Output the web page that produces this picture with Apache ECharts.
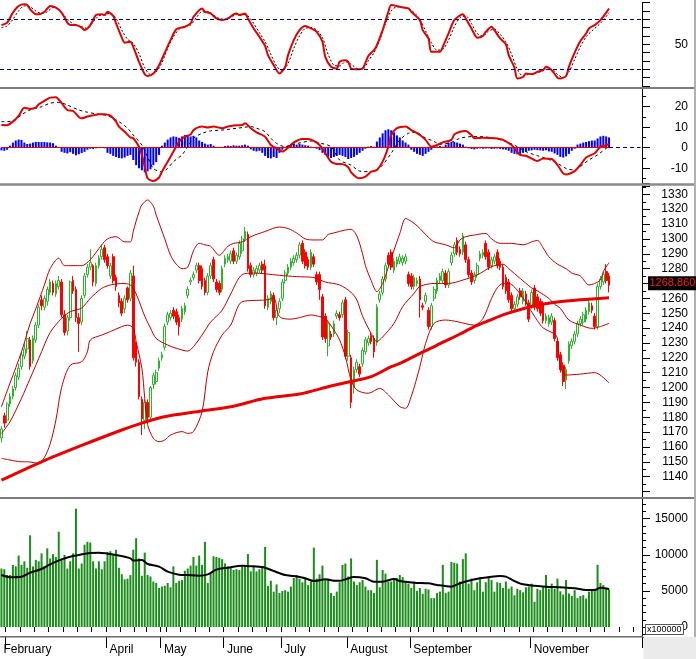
<!DOCTYPE html>
<html><head><meta charset="utf-8">
<script src="https://cdn.jsdelivr.net/npm/echarts@6/dist/echarts.min.js"></script>
<style>html,body{margin:0;padding:0;background:#fff}#c{width:696px;height:659px}</style>
</head><body><div id="c"></div>
<script>
// ---------- DATA ----------
const slotCount = 224; // trading-day slots on the time axis (data fills the first 213)
const opens = [
1166,1181,1178,1189,1194,1200,1207,1214,1221,1226,1232,1218,1232,1242,1259,1254,1258,1264,1270,1263,
1268,1271,1249,1238,1247,1272,1266,1247,1244,1262,1276,1281,1282,1270,1282,1288,1294,1288,1275,1288,
1274,1262,1258,1253,1267,1260,1275,1230,1217,1192,1178,1190,1180,1202,1204,1213,1220,1227,1244,1247,
1252,1251,1247,1246,1251,1262,1271,1274,1279,1282,1280,1272,1264,1275,1286,1271,1270,1266,1283,1286,
1285,1292,1285,1288,1292,1300,1303,1282,1276,1277,1279,1283,1282,1254,1258,1262,1247,1253,1260,1272,
1277,1281,1284,1286,1289,1297,1291,1286,1281,1288,1276,1276,1261,1248,1228,1236,1236,1248,1249,1249,
1259,1221,1220,1200,1212,1214,1216,1224,1230,1235,1233,1230,1259,1264,1273,1289,1291,1279,1283,1285,
1284,1285,1276,1275,1268,1270,1273,1255,1258,1252,1241,1260,1265,1272,1272,1277,1269,1284,1290,1299,
1293,1291,1296,1286,1277,1272,1276,1287,1289,1297,1291,1282,1285,1291,1285,1281,1274,1271,1262,1253,
1256,1265,1258,1263,1257,1255,1267,1261,1258,1256,1245,1243,1244,1245,1231,1222,1215,1205,1218,1228,
1231,1236,1243,1244,1246,1251,1255,1248,1241,1268,1271,1278,1275];
const closes = [
1172,1176,1189,1194,1199,1208,1213,1222,1226,1233,1214,1233,1242,1254,1255,1260,1266,1271,1264,1270,
1272,1249,1237,1247,1271,1265,1247,1243,1260,1275,1281,1284,1271,1282,1287,1293,1286,1282,1282,1272,
1268,1257,1250,1260,1259,1277,1220,1217,1194,1179,1190,1180,1200,1208,1210,1218,1222,1241,1249,1250,
1248,1244,1241,1253,1255,1266,1272,1276,1282,1272,1268,1264,1275,1282,1273,1266,1264,1280,1287,1288,
1290,1285,1289,1297,1300,1305,1280,1276,1279,1280,1282,1279,1255,1260,1263,1247,1252,1258,1271,1277,
1281,1285,1287,1289,1296,1285,1282,1281,1291,1283,1271,1266,1234,1233,1243,1234,1243,1250,1247,1257,
1221,1237,1190,1212,1217,1209,1225,1232,1233,1231,1224,1254,1263,1273,1282,1283,1281,1285,1286,1288,
1287,1288,1270,1268,1274,1272,1259,1254,1262,1241,1255,1266,1272,1275,1278,1269,1278,1289,1296,1291,
1290,1302,1286,1276,1271,1276,1282,1290,1291,1288,1281,1286,1288,1282,1281,1268,1265,1259,1253,1256,
1261,1261,1265,1257,1246,1264,1254,1253,1250,1245,1248,1247,1248,1233,1220,1212,1204,1212,1229,1231,
1236,1243,1246,1249,1252,1257,1252,1241,1268,1273,1276,1272,1268.86];
const lows = [
1163,1173,1176,1187,1192,1198,1205,1212,1219,1223,1212,1216,1230,1240,1252,1252,1255,1262,1262,1261,
1266,1247,1235,1235,1245,1263,1244,1224,1242,1260,1274,1279,1268,1268,1280,1286,1284,1280,1273,1270,
1265,1254,1248,1250,1257,1258,1218,1214,1192,1168,1172,1176,1178,1199,1202,1211,1218,1225,1242,1245,
1246,1242,1235,1244,1249,1260,1269,1272,1277,1270,1266,1262,1262,1273,1271,1264,1262,1264,1281,1284,
1283,1283,1283,1286,1290,1298,1278,1274,1274,1275,1277,1277,1253,1252,1256,1245,1242,1250,1258,1270,
1275,1279,1282,1284,1287,1283,1280,1279,1279,1281,1269,1259,1232,1230,1221,1232,1234,1246,1245,1247,
1219,1218,1186,1196,1210,1207,1214,1222,1228,1229,1220,1228,1257,1262,1271,1281,1279,1277,1281,1283,
1282,1283,1268,1266,1266,1268,1247,1252,1256,1239,1239,1258,1263,1270,1270,1267,1267,1282,1288,1289,
1288,1289,1284,1274,1269,1270,1274,1285,1287,1286,1279,1280,1283,1280,1279,1266,1263,1257,1251,1251,
1254,1259,1256,1255,1244,1253,1252,1251,1248,1243,1243,1241,1242,1231,1218,1210,1201,1199,1216,1226,
1229,1234,1241,1242,1244,1249,1250,1239,1239,1266,1269,1270,1264];
const highs = [
1174,1183,1190,1196,1201,1210,1216,1224,1230,1238,1234,1235,1244,1256,1262,1262,1268,1273,1272,1272,
1275,1273,1252,1249,1272,1275,1268,1250,1262,1277,1283,1293,1283,1284,1289,1296,1296,1290,1284,1290,
1276,1264,1260,1262,1268,1279,1282,1231,1219,1194,1192,1192,1201,1210,1212,1220,1224,1243,1251,1252,
1254,1253,1249,1255,1257,1268,1274,1278,1284,1284,1282,1274,1277,1284,1288,1273,1272,1282,1289,1290,
1292,1294,1291,1299,1302,1308,1305,1284,1281,1282,1284,1285,1286,1262,1265,1264,1254,1260,1273,1279,
1283,1287,1289,1291,1298,1299,1293,1288,1293,1290,1278,1278,1263,1250,1245,1238,1245,1252,1251,1259,
1261,1239,1222,1214,1219,1216,1227,1234,1235,1237,1235,1256,1265,1275,1284,1291,1293,1287,1288,1290,
1289,1290,1278,1277,1276,1274,1275,1257,1264,1254,1257,1268,1274,1277,1280,1279,1280,1291,1298,1301,
1295,1304,1298,1288,1279,1278,1284,1292,1293,1299,1293,1288,1290,1293,1287,1283,1276,1273,1264,1258,
1263,1267,1267,1265,1259,1266,1269,1263,1260,1258,1250,1249,1250,1247,1233,1224,1217,1214,1231,1233,
1238,1245,1248,1251,1254,1259,1257,1250,1270,1275,1278,1283,1277];
const volumes = [
8100,8000,7200,7200,8600,8400,9900,8600,9100,8200,12700,8400,9300,9100,10200,8400,10900,9500,10100,9700,
13200,9500,10000,8100,9100,10200,16400,8100,8800,11400,11800,11700,9100,8100,9100,8000,9100,10400,10500,10000,
10700,8200,7300,6600,6700,7200,10700,12300,9500,7100,10300,7200,7000,6300,6100,5400,5600,5700,6100,5500,
8400,6100,6400,6500,7800,8100,8500,9700,8500,9900,8600,11800,6100,7400,9800,9700,9600,9400,8800,8400,
8300,7900,8000,7900,8400,8600,10100,7700,8400,7700,8000,8400,11100,5700,6400,4900,5900,4700,5000,5100,
4900,5600,6800,7200,6700,6200,6700,5800,6300,11000,6700,7300,8500,6500,6700,4700,4300,4900,6200,8600,
8800,7000,9500,6300,5800,6200,6500,5600,5100,5100,4700,9300,5500,7900,7400,6300,6300,6600,6800,7200,
6900,6300,6000,5400,6300,5000,5400,4600,5300,5200,4000,4000,4700,4900,8600,4700,4900,9000,8900,8800,
6300,9400,10200,6000,6700,5100,6200,6900,4900,6200,6900,6500,4900,6200,6100,5400,6300,5300,5600,4400,
5300,5100,4800,5500,5600,6000,3500,5300,5100,5600,7200,5300,6000,5300,6700,4950,4500,6500,4650,4300,
5100,4000,4300,4400,3950,4900,5100,5300,8600,6100,5800,5400,5200];
const macdHist = [
-1.3,-1.5,-1.0,1.0,2.5,3.5,4.0,3.8,2.5,1.8,2.0,2.5,2.8,2.8,2.8,2.8,2.6,2.5,2.2,1.0,
0.2,-2.0,-2.5,-2.8,-2.2,-3.0,-3.7,-3.2,-2.6,-2.0,-1.0,-0.5,-0.6,-0.3,-0.2,0.2,-0.3,-2.5,-3.0,-4.0,
-4.5,-5.0,-5.2,-4.8,-4.0,-3.5,-6.0,-8.5,-10.0,-11.0,-12.0,-11.5,-10.5,-8.5,-7.0,-3.5,1.0,2.5,4.0,5.0,
5.5,5.3,4.8,5.5,6.2,6.0,5.5,5.8,5.0,3.5,2.8,2.0,1.5,1.8,1.0,0.3,0.2,0.4,0.8,1.0,
0.8,1.2,1.0,1.0,1.2,1.5,1.0,-0.8,-1.5,-1.8,-1.5,-2.5,-4.0,-5.0,-5.2,-4.5,-5.0,-2.5,-1.0,0.2,
1.0,1.5,2.0,1.5,1.8,1.5,1.2,1.0,0.5,0.3,-0.5,-1.2,-2.5,-3.5,-4.5,-5.0,-4.5,-4.0,-3.5,-4.0,
-4.5,-5.5,-5.0,-4.5,-3.5,-2.5,-1.5,-0.5,0.5,0.8,0.5,3.0,5.0,7.0,8.5,9.0,8.5,7.5,6.0,5.0,
3.5,2.5,1.5,-1.0,-2.0,-3.0,-3.5,-4.0,-3.0,-2.0,-1.0,0.3,0.6,0.8,0.5,1.5,2.5,2.8,2.8,2.5,
2.0,1.5,0.5,-0.3,-0.6,-0.8,-0.5,-0.3,-0.5,-0.4,-0.3,-0.6,-0.5,-0.4,-0.6,-0.8,-1.0,-1.5,-2.5,-3.0,
-3.2,-3.0,-2.5,-2.0,-1.5,-1.3,-1.0,-1.2,-1.3,-1.5,-1.2,-1.8,-2.0,-2.8,-3.5,-4.5,-4.8,-4.2,-3.0,-1.5,
-0.5,1.5,2.0,2.5,2.8,3.2,3.5,3.5,4.5,5.5,5.8,5.5,5.0];
// indicator lines: [trading-day index, value]
const stochK = [[0,73],[2,76],[4,88],[6,96],[8,98],[9,97],[10,92],[12,86],[13,86],[15,89],[16,93],[17,96],[19,94],[21,88],[23,76],[24,73],[26,73],[28,70],[29,67],[31,73],[33,85],[35,86],[36,85],[37,89],[39,84],[40,75],[42,58],[43,52],[45,53],[46,47],[48,29],[50,14],[51,12],[53,15],[55,25],[57,40],[59,55],[61,68],[64,71],[66,75],[67,83],[70,93],[71,89],[73,87],[75,81],[77,79],[79,81],[81,86],[82,87],[83,85],[85,87],[86,81],[88,69],[90,59],[92,48],[93,37],[95,25],[97,15],[99,23],[100,37],[102,55],[104,67],[106,72],[108,69],[110,65],[112,53],[113,35],[115,23],[117,21],[118,29],[120,31],[121,29],[122,21],[124,20],[126,21],[128,36],[130,43],[131,49],[133,67],[135,89],[136,97],[139,95],[142,93],[143,89],[146,79],[147,67],[149,57],[150,41],[153,41],[154,47],[156,63],[158,79],[161,86],[162,81],[164,69],[166,58],[168,60],[169,65],[171,71],[172,67],[174,57],[176,50],[177,37],[179,22],[180,9],[182,11],[183,15],[185,14],[187,17],[189,19],[190,23],[192,19],[194,10],[195,9],[197,12],[198,23],[200,40],[202,54],[204,63],[205,69],[207,73],[209,79],[211,88],[212,93]];
const stochD = [[0,70],[2,72],[4,80],[6,90],[8,96],[10,95],[12,90],[14,87],[16,89],[18,94],[20,92],[22,84],[24,77],[26,73],[28,71],[30,69],[32,77],[34,84],[36,86],[38,87],[40,81],[42,67],[44,56],[46,51],[48,39],[50,22],[52,14],[54,17],[56,28],[58,45],[60,59],[62,68],[64,71],[66,73],[68,82],[70,89],[72,89],[74,85],[76,81],[78,80],[80,82],[82,86],[84,86],[86,84],[88,75],[90,64],[92,53],[94,38],[96,24],[98,18],[100,27],[102,45],[104,60],[106,69],[108,70],[110,67],[112,58],[114,38],[116,25],[118,24],[120,29],[122,26],[124,21],[126,20],[128,30],[130,40],[132,55],[134,75],[136,90],[138,95],[140,94],[142,93],[144,88],[146,80],[148,66],[150,52],[152,43],[154,44],[156,55],[158,71],[160,82],[162,84],[164,75],[166,63],[168,60],[170,66],[172,68],[174,62],[176,53],[178,38],[180,20],[182,12],[184,14],[186,15],[188,17],[190,20],[192,20],[194,14],[196,10],[198,17],[200,32],[202,47],[204,59],[206,66],[208,72],[210,79],[212,88]];
const stochLevels = [20, 80];
const macdLine = [[0,11.1],[2,11],[4,12.7],[6,15.5],[8,19.5],[10,18.9],[12,19.5],[13,21.2],[15,22.8],[17,24.4],[19,24.6],[21,21.7],[23,18.4],[25,17.9],[27,15],[28,14.3],[30,15.2],[32,15.8],[34,16.3],[36,16.3],[38,15.6],[40,12.7],[41,10.3],[43,7.8],[45,5],[46,4.6],[48,0.5],[49,-3.5],[50,-9.2],[51,-14.9],[53,-16.2],[55,-14.5],[56,-11.7],[58,-6.8],[60,-1.9],[62,3],[64,5.4],[66,6.4],[67,8.6],[70,10.3],[72,9.8],[74,10.3],[77,9.5],[79,10.3],[81,10.8],[84,11.1],[85,11.9],[87,9.5],[89,7.5],[92,5.4],[94,1.3],[96,-0.3],[98,-1.9],[100,0],[102,2.6],[105,4.3],[107,4.3],[109,3.3],[111,1.3],[113,-2.7],[115,-6.8],[117,-7.9],[119,-8],[121,-9.5],[122,-12],[124,-14.5],[125,-14.9],[127,-14.1],[129,-11.7],[131,-10.9],[133,-6.8],[135,0.5],[136,6.2],[138,9.5],[141,10.3],[143,8.6],[146,6.2],[148,3.8],[150,0.5],[152,1.3],[154,2.6],[157,3.8],[158,6.5],[160,7.8],[162,8.2],[164,6.2],[165,4.6],[168,4.9],[172,4.6],[175,3.8],[178,1.3],[179,-0.3],[181,-3.5],[183,-3.9],[186,-6],[187,-6.5],[189,-5.2],[192,-5.5],[194,-8.4],[196,-12.5],[197,-13],[200,-11.4],[202,-8.4],[204,-4.8],[207,-2.7],[208,-1.1],[209,0.5],[211,1.2],[212,1.8]];
const macdSignal = [[0,12.7],[4,13],[7,16],[10,18.4],[14,20],[17,21.7],[20,22.1],[23,20.8],[27,18.4],[30,17.3],[34,16.3],[37,15.6],[41,12.7],[44,9.5],[46,6.2],[49,1.3],[51,-4.4],[53,-10.1],[56,-11.7],[58,-10.1],[60,-6.8],[63,-3.5],[65,0.5],[67,4.6],[70,7],[73,8.2],[77,8.6],[80,9.1],[84,9.8],[87,10.3],[89,9.5],[92,7.8],[94,4.6],[96,2.1],[99,0.5],[101,1.3],[105,2.6],[108,3.3],[111,2.3],[115,0.5],[118,-6],[122,-8.5],[125,-11.4],[129,-11.7],[131,-10.9],[133,-8.4],[136,-2.7],[139,3.8],[142,7],[145,7.5],[147,5.4],[151,3],[153,1.7],[157,2.6],[160,4.6],[164,5.4],[167,5.4],[172,4.6],[176,3],[180,0.5],[183,-1.9],[187,-3.9],[190,-5.2],[194,-7.6],[197,-10.1],[200,-10.9],[202,-9.2],[205,-6],[208,-3.5],[211,-0.3],[212,0.5]];
const bbUpper = [[0,1187],[3,1203],[7,1224],[10,1243],[12,1253],[15,1269],[17,1280],[20,1287],[22,1282],[25,1282],[28,1282],[31,1286],[35,1296],[37,1300],[40,1301.5],[43,1298],[45,1298],[46,1305],[47,1312],[48,1318],[49,1322.8],[51,1326.2],[53,1322],[54,1316],[57,1300],[59,1289],[61,1283],[63,1280],[65,1281],[67,1292],[69,1297],[71,1296],[73,1295],[76,1289],[79,1295],[81,1297],[84,1298],[87,1301.5],[92,1305],[97,1308],[100,1307],[103,1304],[106,1300],[109,1299.3],[112,1299.3],[114,1303],[116,1304],[120,1306],[122,1306.4],[124,1302],[126,1290],[127,1282],[129,1272],[131,1264.5],[133,1270],[135,1281],[137,1292.5],[139,1303.7],[141,1313.8],[142,1313],[144,1310.5],[146,1307],[149,1301],[151,1298],[155,1296],[158,1294],[160,1299.3],[162,1301.5],[165,1302.6],[169,1303.7],[171,1300],[174,1297],[178,1297],[182,1296],[185,1298],[187,1299],[189,1294],[191,1288],[194,1283],[197,1280],[199,1277],[202,1275],[205,1269],[207,1270],[209,1272.3],[210,1278],[212,1284]];
const bbMiddle = [[0,1169],[3,1177],[7,1192.7],[10,1206],[14,1224],[17,1237],[21,1246.5],[24,1251],[28,1253.5],[31,1260],[35,1266.7],[38,1269],[42,1270],[45,1269],[47,1263],[50,1248],[52,1240],[54,1233],[58,1228.6],[61,1226.4],[65,1224.5],[67,1227.5],[70,1235.3],[73,1244],[77,1252],[80,1263],[84,1276],[88,1277],[92,1276.5],[97,1275.5],[103,1274.6],[109,1274],[113,1271],[118,1269],[122,1264],[124,1258.9],[126,1248],[129,1236.4],[131,1231],[133,1234],[137,1243.2],[140,1254.4],[144,1263.4],[146,1268],[151,1270],[156,1270],[161,1272.3],[166,1275.7],[171,1281.3],[175,1283],[177,1280],[181,1273.4],[185,1267],[187,1265],[191,1260],[193,1256],[195,1253.3],[198,1245.4],[202,1242],[206,1239.8],[209,1241],[212,1243.2]];
const bbLower = [[0,1152.3],[3,1151.2],[7,1150],[9,1150],[13,1149],[15,1153],[17,1162],[19,1178],[21,1200],[24,1215],[28,1217.3],[30,1224],[31,1232],[35,1235.3],[38,1237.6],[42,1241],[44,1242],[46,1239.8],[47,1230.8],[49,1212.9],[50,1192.7],[51,1175],[53,1165.8],[55,1163.5],[57,1164.7],[59,1168],[63,1170.3],[65,1169.1],[67,1170.3],[70,1183.7],[72,1210.6],[74,1224.1],[77,1235.3],[80,1242],[84,1257.7],[92,1258.9],[95,1260],[97,1247.7],[101,1246],[104,1247],[108,1248.8],[111,1247.7],[113,1246.5],[116,1238.7],[118,1232],[120,1220.8],[122,1205],[124,1198.3],[128,1196.1],[132,1199.4],[135,1195],[139,1187.1],[141,1186],[143,1194],[146,1214],[148,1229.7],[151,1243.2],[155,1245.4],[159,1244.3],[165,1242],[168,1246.5],[171,1260],[173,1267],[175,1270],[177,1270],[181,1263],[184,1254],[187,1245],[189,1240.1],[193,1236],[194,1233],[195,1214],[197,1208.4],[202,1209],[207,1210],[212,1203]];
const ma200 = [[0,1137.6],[14,1150],[28,1161],[42,1171.4],[49,1176],[56,1180],[70,1184.2],[80,1187],[92,1192.7],[104,1195.6],[115,1201],[122,1204],[129,1207.3],[136,1214],[139,1216.2],[145,1222],[151,1227.5],[153,1229.5],[160,1236],[165,1241],[170,1245],[176,1249.5],[186,1255],[194,1257.5],[202,1259],[212,1260.4]];
const volumeMA = [[0,7200],[3,6900],[7,6970],[10,7520],[14,8030],[17,8680],[21,9370],[24,9740],[28,10060],[31,10250],[34,10300],[37,10160],[40,9970],[43,9740],[45,9510],[46,9200],[49,9280],[51,8730],[55,8360],[58,7660],[62,7250],[65,7200],[69,7110],[72,7290],[75,7940],[79,8220],[84,8500],[88,8400],[92,8220],[95,7750],[99,7200],[102,7060],[106,6740],[109,6370],[113,6600],[116,6420],[118,6400],[120,6600],[123,6920],[127,6740],[130,6280],[133,6280],[137,6650],[139,6370],[144,6140],[149,6050],[152,5820],[157,5590],[160,6050],[164,6510],[167,6740],[171,6970],[174,7060],[176,6970],[179,6370],[182,5910],[186,5720],[190,5590],[195,5490],[200,5360],[204,5120],[207,5120],[209,5450],[212,5260]];
const monthLabelIdx = [0, 37, 56, 78, 98, 121, 143, 185];
const monthLabels = ['February', 'April', 'May', 'June', 'July', 'August', 'September', 'November'];
const monthTickIdx = [2, 37, 56, 78, 98, 121, 143, 185];
const weekTickIdx = [2,7,12,17,22,27,32,37,42,47,51,56,58,63,68,73,78,83,88,93,98,103,108,113,118,123,128,133,138,143,146,151,156,161,166,171,176,181,186,191,196,201,206,211,216,221];
const lastPrice = 1268.86;
const volumeUnit = 'x100000';

// ---------- CHART ----------
const categories = Array.from({length: slotCount}, (_, i) => 'd' + i);
const candleData = opens.map((o, i) => [o, closes[i], lows[i], highs[i]]);
const labelMap = new Map(monthLabelIdx.map((d, i) => [d, monthLabels[i]]));
const monthTickSet = new Set(monthTickIdx);
const weekTickSet = new Set(weekTickIdx);
const lastIdx = closes.length - 1;
const FONT = "'Liberation Sans', Arial, sans-serif";

const grids = [
  {left: -1.3, right: 54, top: 2.6, height: 83.4},
  {left: -1.3, right: 54, top: 88, height: 95},
  {left: -1.3, right: 54, top: 186, height: 311},
  {left: -1.3, right: 54, top: 498, height: 139},
  {left: -1.3, right: 54, top: 498, height: 139}
];
function hiddenX(g) {
  return {type: 'category', gridIndex: g, data: categories, boundaryGap: true, show: false};
}
function rightY(g, extra) {
  return Object.assign({
    type: 'value', gridIndex: g, position: 'right',
    axisLine: {show: true, onZero: false, lineStyle: {color: '#000', width: 1}},
    axisTick: {show: true, length: 8, lineStyle: {color: '#000'}},
    minorTick: {show: true, splitNumber: 2, length: 4, lineStyle: {color: '#000'}},
    splitLine: {show: false}, minorSplitLine: {show: false},
    axisLabel: {fontFamily: FONT, fontSize: 12, color: '#000', align: 'right', margin: 46}
  }, extra);
}

const chart = echarts.init(document.getElementById('c'), null, {renderer: 'canvas'});
const lineBase = {type: 'line', showSymbol: false, symbol: 'none', animation: false};
chart.setOption({
  animation: false,
  backgroundColor: '#ffffff',
  grid: grids,
  xAxis: [
    hiddenX(0), hiddenX(1), hiddenX(2),
    {type: 'category', gridIndex: 3, data: categories, boundaryGap: true, position: 'bottom',
      axisLine: {show: false},
      axisTick: {show: true, length: 5, interval: (i) => weekTickSet.has(i), lineStyle: {color: '#000'}},
      axisLabel: {show: false}},
    {type: 'category', gridIndex: 4, data: categories, boundaryGap: true, position: 'bottom',
      axisLine: {show: false},
      axisTick: {show: true, length: 11, interval: (i) => monthTickSet.has(i), lineStyle: {color: '#000'}},
      axisLabel: {show: true, interval: (i) => labelMap.has(i), formatter: (v, i) => labelMap.get(i) || '',
        align: 'left', margin: 7, padding: [0, 0, 0, 2], fontFamily: FONT, fontSize: 12, color: '#000'}}
  ],
  yAxis: [
    rightY(0, {min: 0, max: 100, interval: 10, minorTick: {show: false},
      axisLabel: {fontFamily: FONT, fontSize: 12, color: '#000', align: 'right', margin: 46,
        formatter: (v) => (v === 50 ? '50' : '')}}),
    rightY(1, {min: -17.2, max: 29.1, splitNumber: 5,
      axisLabel: {fontFamily: FONT, fontSize: 12, color: '#000', align: 'right', margin: 46,
        showMinLabel: false, showMaxLabel: false,
        formatter: (v) => (Math.abs(v % 10) < 1e-6 ? String(Math.round(v)) : '')}}),
    rightY(2, {min: 1126.3, max: 1335.6, splitNumber: 21,
      axisLabel: {fontFamily: FONT, fontSize: 12, color: '#000', align: 'right', margin: 46,
        showMinLabel: false, showMaxLabel: false,
        formatter: (v) => (v >= 1140 && v <= 1330 && Math.abs(v % 10) < 1e-6 ? String(Math.round(v)) : '')}}),
    rightY(3, {min: -1385, max: 17867, splitNumber: 4,
      minorTick: {show: true, splitNumber: 5, length: 4, lineStyle: {color: '#000'}},
      axisLabel: {fontFamily: FONT, fontSize: 12, color: '#000', align: 'right', margin: 46,
        showMinLabel: false, showMaxLabel: false,
        formatter: (v) => (v >= 0 && Math.abs(v % 5000) < 1e-6 ? String(Math.round(v)) : '')}}),
    {type: 'value', gridIndex: 4, show: false, min: 0, max: 1}
  ],
  series: [
    Object.assign({}, lineBase, {name: '%D', xAxisIndex: 0, yAxisIndex: 0, data: stochD, smooth: 0.3, z: 3,
      lineStyle: {color: '#000', width: 1, type: [2, 2]},
      markLine: {silent: true, symbol: 'none', animation: false, label: {show: false},
        lineStyle: {color: '#000080', width: 1, type: [4, 3]},
        data: stochLevels.map((v) => ({yAxis: v}))}}),
    Object.assign({}, lineBase, {name: '%K', xAxisIndex: 0, yAxisIndex: 0, data: stochK, smooth: 0.25, z: 4,
      lineStyle: {color: '#e00000', width: 2}}),
    {type: 'bar', name: 'hist', xAxisIndex: 1, yAxisIndex: 1, data: macdHist, barWidth: '70%', animation: false,
      itemStyle: {color: '#0000ff'}, z: 2,
      markLine: {silent: true, symbol: 'none', animation: false, label: {show: false},
        data: [
          [{coord: [0, 0], lineStyle: {color: '#e00000', width: 1, type: 'solid'}}, {coord: [lastIdx, 0]}],
          [{coord: [lastIdx, 0], lineStyle: {color: '#000080', width: 1, type: [4, 3]}}, {coord: [slotCount - 1, 0]}]
        ]}},
    Object.assign({}, lineBase, {name: 'signal', xAxisIndex: 1, yAxisIndex: 1, data: macdSignal, smooth: 0.3, z: 3,
      lineStyle: {color: '#000', width: 1, type: [3, 3]}}),
    Object.assign({}, lineBase, {name: 'macd', xAxisIndex: 1, yAxisIndex: 1, data: macdLine, smooth: 0.25, z: 4,
      lineStyle: {color: '#e00000', width: 2}}),
    {type: 'candlestick', name: 'price', xAxisIndex: 2, yAxisIndex: 2, data: candleData, barWidth: '76%', animation: false, z: 2,
      itemStyle: {color: '#ffffff', color0: '#ff0000', borderColor: '#2cb52c', borderColor0: '#ff0000', borderWidth: 1}},
    Object.assign({}, lineBase, {name: 'bbU', xAxisIndex: 2, yAxisIndex: 2, data: bbUpper, smooth: 0.3, z: 3,
      lineStyle: {color: '#c00000', width: 1}}),
    Object.assign({}, lineBase, {name: 'bbM', xAxisIndex: 2, yAxisIndex: 2, data: bbMiddle, smooth: 0.3, z: 3,
      lineStyle: {color: '#c00000', width: 1}}),
    Object.assign({}, lineBase, {name: 'bbL', xAxisIndex: 2, yAxisIndex: 2, data: bbLower, smooth: 0.3, z: 3,
      lineStyle: {color: '#c00000', width: 1}}),
    Object.assign({}, lineBase, {name: 'ma200', xAxisIndex: 2, yAxisIndex: 2, data: ma200, smooth: 0.3, z: 4,
      lineStyle: {color: '#e80000', width: 3}}),
    {type: 'bar', name: 'vol', xAxisIndex: 3, yAxisIndex: 3, data: volumes, barWidth: '70%', animation: false,
      itemStyle: {color: '#1c8c1c'}, z: 2},
    Object.assign({}, lineBase, {name: 'volMA', xAxisIndex: 3, yAxisIndex: 3, data: volumeMA, smooth: 0.3, z: 3,
      lineStyle: {color: '#000', width: 2}})
  ]
});

const py = chart.convertToPixel({yAxisIndex: 2}, lastPrice);
const vy0 = chart.convertToPixel({yAxisIndex: 3}, 0);
chart.setOption({
  graphic: [
    {type: 'rect', z: 100, shape: {x: 0, y: 87, width: 696, height: 2}, style: {fill: '#7c7c7c'}},
    {type: 'rect', z: 100, shape: {x: 0, y: 183.3, width: 696, height: 2.5}, style: {fill: '#8a8a8a'}},
    {type: 'rect', z: 100, shape: {x: 0, y: 497, width: 696, height: 2}, style: {fill: '#7c7c7c'}},
    {type: 'rect', z: 100, shape: {x: 0, y: 636, width: 643, height: 1.6}, style: {fill: '#6a6a6a'}},
    {type: 'rect', z: 100, shape: {x: 694, y: 0, width: 2, height: 637}, style: {fill: '#b0b0b0'}},
    {type: 'rect', z: 99, shape: {x: 643.5, y: 637, width: 52.5, height: 22}, style: {fill: '#ebebeb'}},
    {type: 'rect', z: 101, shape: {x: 645.5, y: vy0 - 2.5, width: 38, height: 10}, style: {fill: '#ffffff', stroke: '#555', lineWidth: 1}},
    {type: 'text', z: 102, style: {x: 647, y: vy0 + 2.5, text: volumeUnit, fill: '#000', font: '9px ' + FONT, textVerticalAlign: 'middle'}},
    {type: 'rect', z: 101, shape: {x: 648, y: py - 9, width: 48, height: 14}, style: {fill: '#000'}},
    {type: 'text', z: 102, style: {x: 649.5, y: py - 2, text: lastPrice.toFixed(3), fill: '#ff1a1a', font: '11px ' + FONT, textVerticalAlign: 'middle'}}
  ]
});
</script>
</body></html>
